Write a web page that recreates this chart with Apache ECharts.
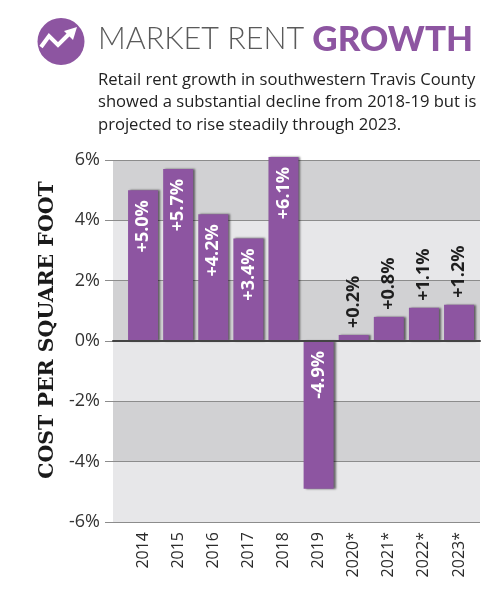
<!DOCTYPE html>
<html>
<head>
<meta charset="utf-8">
<script src="https://cdn.jsdelivr.net/npm/echarts@6/dist/echarts.min.js"></script>
<style>
html,body{margin:0;padding:0;background:#fff;}
#c{width:501px;height:600px;}
</style>
</head>
<body>
<div id="c"></div>
<script>
var categories = ['2014','2015','2016','2017','2018','2019','2020*','2021*','2022*','2023*'];
var growthValues = [5.0, 5.7, 4.2, 3.4, 6.1, -4.9, 0.2, 0.8, 1.1, 1.2];
var yTicks = [-6, -4, -2, 0, 2, 4, 6];
var titleThin = 'MARKET RENT ';
var titleBold = 'GROWTH';
var subtitle = ['Retail rent growth in southwestern Travis County',
                'showed a substantial decline from 2018-19 but is',
                'projected to rise steadily through 2023.'];
var yAxisTitle = 'COST PER SQUARE FOOT';

var PURPLE = '#8d55a1';

function fmt(v){ return (v > 0 ? '+' : '') + v.toFixed(1) + '%'; }

var barData = growthValues.map(function(v){
  var inside = Math.abs(v) >= 3;
  return {
    value: v,
    label: inside ? {
      show: true, position: 'insideTop', rotate: 90, align: 'right', verticalAlign: 'middle',
      distance: 10, color: '#ffffff'
    } : {
      show: true, position: 'top', rotate: 90, align: 'left', verticalAlign: 'middle',
      distance: 7, color: '#1e1e1e'
    }
  };
});

var chart = echarts.init(document.getElementById('c'), null, {renderer: 'canvas'});
chart.setOption({
  backgroundColor: '#ffffff',
  animation: false,
  graphic: [
    {type: 'circle', shape: {cx: 61, cy: 41.5, r: 23.5}, style: {fill: PURPLE}},
    {type: 'polyline', shape: {points: [[41,47],[49,36],[58,45],[69,34]]},
     style: {stroke: '#fff', lineWidth: 4, fill: null, lineJoin: 'miter'}},
    {type: 'polygon', shape: {points: [[77,27],[64,31],[73,40]]}, style: {fill: '#fff'}},
    {type: 'text', left: 98, top: 22,
     style: {
       text: '{t|' + titleThin + '}{b|' + titleBold + '}',
       rich: {
         t: {fontFamily: 'Lato', fontWeight: 300, fontSize: 30.5, fill: '#5a5a5a', color: '#5a5a5a'},
         b: {fontFamily: 'Lato', fontWeight: 900, fontSize: 35, fill: PURPLE, color: PURPLE}
       }
     }},
    {type: 'text', left: 98, top: 69,
     style: {text: subtitle.join('\n'), fontFamily: 'Open Sans', fontSize: 16.6, lineHeight: 22.5, fill: '#222'}},
    {type: 'text', x: 48, y: 330, rotation: Math.PI / 2,
     style: {text: yAxisTitle, fontFamily: 'DejaVu Serif', fontWeight: 'bold', fontSize: 20.5,
             fill: '#1a1a1a', align: 'center', verticalAlign: 'middle'}}
  ],
  grid: [
    {left: 113, right: 21, top: 160, bottom: 78, containLabel: false},
    {left: 125.5, right: 24.4, top: 160, bottom: 78, containLabel: false}
  ],
  xAxis: [
    {type: 'category', gridIndex: 0, data: [''], z: 5,
     axisLine: {show: true, onZero: true, lineStyle: {color: '#444', width: 2}},
     axisTick: {show: false}, axisLabel: {show: false}, splitLine: {show: false}},
    {type: 'category', gridIndex: 1, data: categories, position: 'bottom',
     axisLine: {show: false, onZero: false}, axisTick: {show: false},
     axisLabel: {rotate: 90, margin: 10, fontFamily: 'Open Sans', fontSize: 16, color: '#2a2a2a', interval: 0}}
  ],
  yAxis: [
    {type: 'value', gridIndex: 0, min: yTicks[0], max: yTicks[yTicks.length-1], interval: 2,
     axisLine: {show: false},
     axisTick: {show: true, length: 8, lineStyle: {color: '#8c8c8c'}},
     axisLabel: {formatter: '{value}%', margin: 13, fontFamily: 'Open Sans', fontSize: 18, color: '#333'},
     splitLine: {show: true, lineStyle: {color: '#8c8c8c', width: 1}},
     splitArea: {show: true, areaStyle: {color: ['#e7e7e9', '#d1d1d3']}}},
    {type: 'value', gridIndex: 1, min: yTicks[0], max: yTicks[yTicks.length-1], interval: 2, show: false}
  ],
  series: [{
    type: 'bar', xAxisIndex: 1, yAxisIndex: 1, barWidth: 30, clip: false,
    data: barData,
    itemStyle: {color: PURPLE, shadowColor: 'rgba(0,0,0,0.55)', shadowBlur: 2, shadowOffsetX: 2, shadowOffsetY: 0},
    label: {formatter: function(p){ return fmt(p.value); }, fontFamily: 'Open Sans', fontWeight: 'bold', fontSize: 18}
  }]
});
</script>
</body>
</html>
